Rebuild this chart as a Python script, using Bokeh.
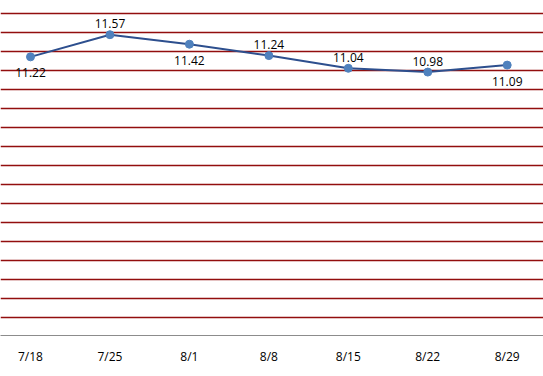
from bokeh.plotting import figure
from bokeh.models import FixedTicker, ColumnDataSource, Range1d
from bokeh.core.properties import value
from bokeh.embed import file_html
from bokeh.resources import INLINE

dates = ["7/18", "7/25", "8/1", "8/8", "8/15", "8/22", "8/29"]
values = [11.22, 11.57, 11.42, 11.24, 11.04, 10.98, 11.09]
label_side = ["below", "above", "below", "above", "above", "above", "below"]
grid_values = [7.1, 7.4, 7.7, 8.0, 8.3, 8.6, 8.9, 9.2, 9.5, 9.8, 10.1, 10.4,
               10.7, 11.0, 11.3, 11.6, 11.9]

FONT = "Open Sans"
xs = list(range(len(dates)))

FRAME_H = 335
p = figure(width=543, height=376, output_backend="svg", toolbar_location=None,
           y_axis_location=None, min_border_left=0, min_border_right=0,
           min_border_top=0, min_border_bottom=376 - FRAME_H)
p.outline_line_color = None
p.background_fill_color = "white"
p.border_fill_color = "white"

step = 79.45
scale = 19 / 0.3
p.x_range = Range1d(-30 / step, -30 / step + 543 / step)
y_end = 11.9 + 13.3 / scale
p.y_range = Range1d(y_end - FRAME_H / scale, y_end)

p.xgrid.visible = False
p.ygrid.ticker = FixedTicker(ticks=grid_values)
p.ygrid.grid_line_color = "#920E0E"
p.ygrid.grid_line_width = 1.4
p.ygrid.grid_line_alpha = 1

ax = p.xaxis[0]
ax.ticker = FixedTicker(ticks=xs)
ax.major_label_overrides = {i: d for i, d in enumerate(dates)}
ax.major_tick_line_color = None
ax.minor_tick_line_color = None
ax.axis_line_color = "#8C8C8C"
ax.axis_line_width = 1.2
ax.major_label_text_font = FONT
ax.major_label_text_font_size = "12px"
ax.major_label_text_color = "#000000"
ax.major_label_standoff = 6

src = ColumnDataSource(dict(x=xs, y=values,
                            label=[f"{v:.2f}" for v in values],
                            yoff=[-11 if s == "above" else 16 for s in label_side]))

p.line("x", "y", source=src, line_color="#2D4F8E", line_width=2)
p.scatter("x", "y", source=src, size=8, fill_color="#4F81BD",
          line_color="#4F81BD")
p.text("x", "y", text="label", source=src, y_offset="yoff",
       text_align="center", text_baseline="middle",
       text_font=value(FONT), text_font_size="12px", text_color="#000000")

open("out.html", "w").write(file_html(p, INLINE))
